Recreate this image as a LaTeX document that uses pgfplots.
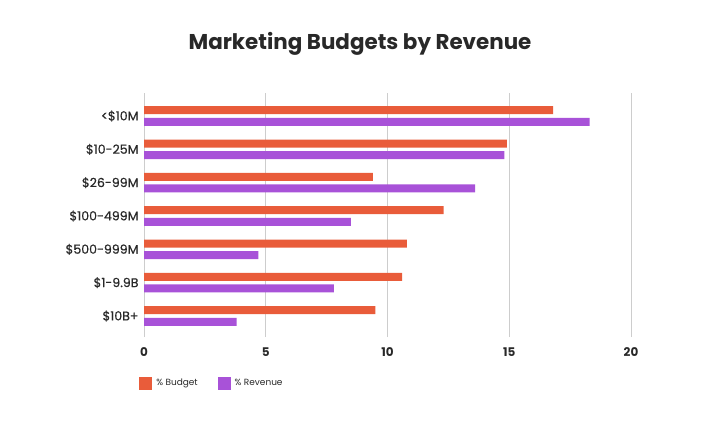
\documentclass[border=0pt]{standalone}
\usepackage{pgfplots}
\pgfplotsset{compat=1.18}
\usepackage{fontspec}
\setmainfont{Poppins}
\newfontfamily\medfont{Poppins}[FakeBold=0.5]
\definecolor{budget}{RGB}{233,92,58}
\definecolor{revenue}{RGB}{168,82,216}
\definecolor{txt}{RGB}{40,40,40}
\definecolor{gridc}{RGB}{205,205,205}
\begin{document}
\begin{tikzpicture}[x=1bp,y=1bp]
\useasboundingbox (0,0) rectangle (720,431);
\node[font=\fontsize{21.5}{25}\selectfont\bfseries, text=txt] at (360,387) {Marketing Budgets by Revenue};
\begin{axis}[
 at={(144bp,94bp)}, anchor=south west,
 scale only axis, width=487bp, height=244bp,
 xbar, bar width=8bp,
 xmin=0, xmax=20, ymin=-0.63, ymax=6.69,
 xtick={0,5,10,15,20},
 ytick={0,1,2,3,4,5,6},
 yticklabels={\$10B+,\$1-9.9B,\$500-999M,\$100-499M,\$26-99M,\$10-25M,<\$10M},
 xmajorgrids, grid style={draw=gridc, line width=0.9bp},
 axis line style={draw=none},
 major tick length=0pt,
 tick label style={font=\medfont\fontsize{12.6}{14}\selectfont, text=txt},
 xticklabel style={yshift=-7bp, font=\bfseries\fontsize{12}{14}\selectfont},
 yticklabel style={xshift=-2bp},
 /pgf/number format/assume math mode=true,
 legend style={at={(axis description cs:-0.01,-0.19)}, anchor=west, draw=none, fill=none,
   font=\fontsize{9}{11}\selectfont, text=txt, inner sep=0pt,
   nodes={inner xsep=4bp},
   /tikz/every even column/.append style={column sep=16bp}},
 legend columns=2,
 legend image code/.code={\fill[#1] (0bp,-6.5bp) rectangle (13bp,6.5bp);},
]
\addplot[fill=budget, draw=none, bar shift=5.8bp] coordinates {(16.8,6) (14.9,5) (9.4,4) (12.3,3) (10.8,2) (10.6,1) (9.5,0)};
\addplot[fill=revenue, draw=none, bar shift=-5.8bp] coordinates {(18.3,6) (14.8,5) (13.6,4) (8.5,3) (4.7,2) (7.8,1) (3.8,0)};
\legend{\% Budget, \% Revenue}
\end{axis}
\end{tikzpicture}
\end{document}
